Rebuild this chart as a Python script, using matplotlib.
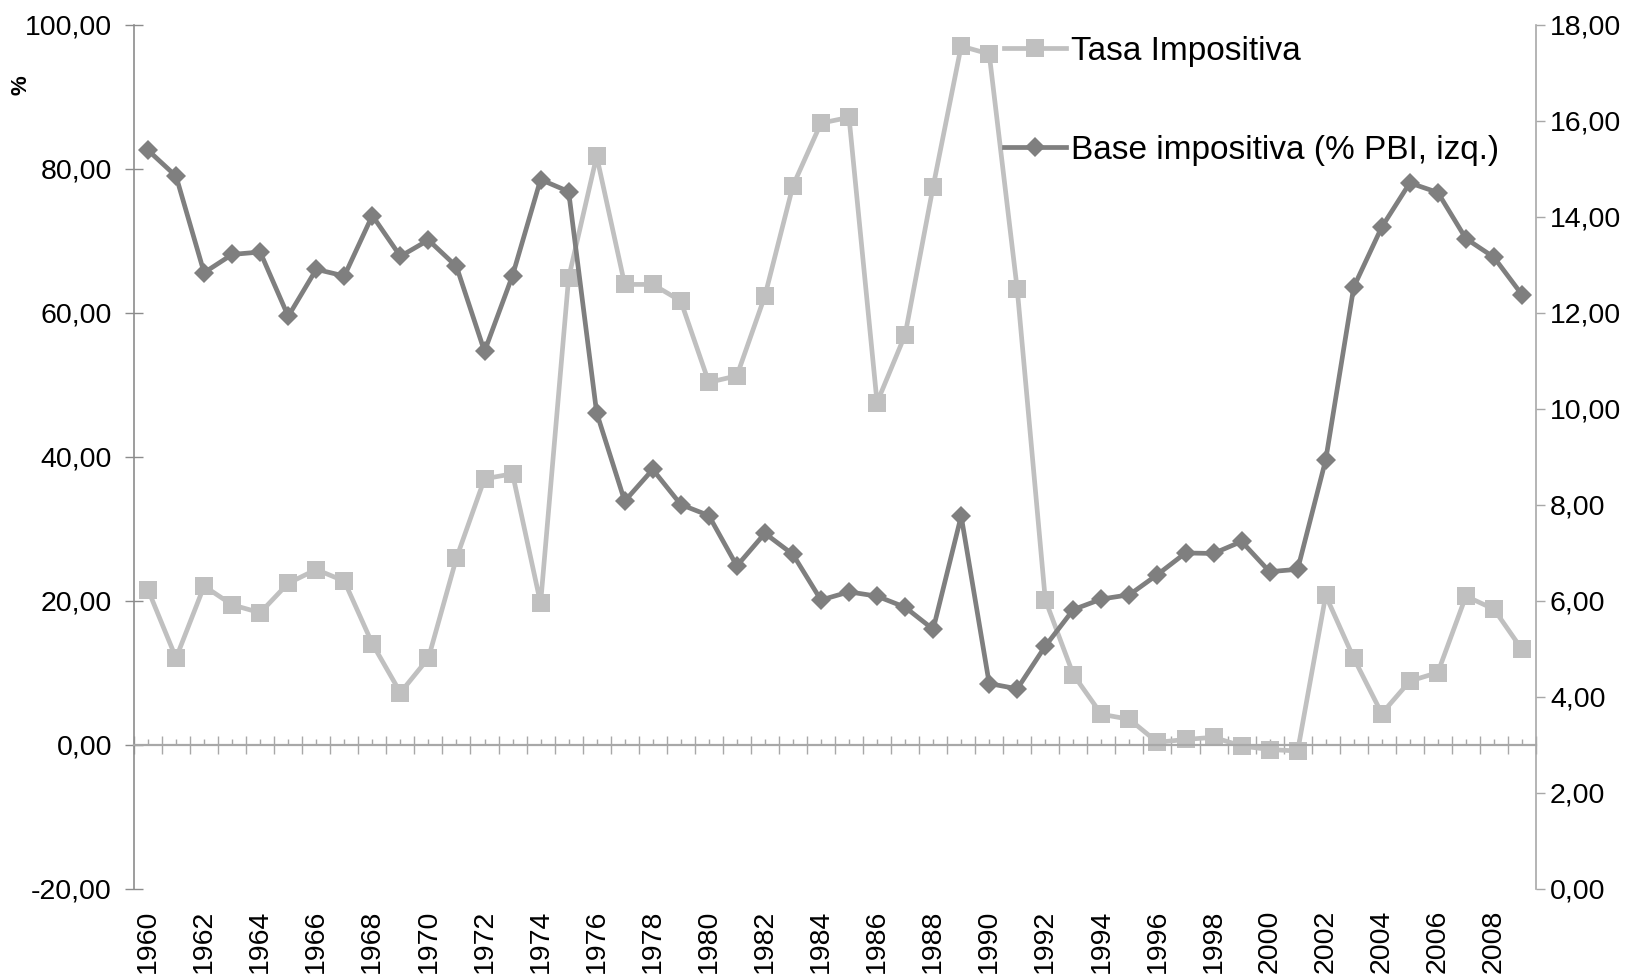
import matplotlib
matplotlib.use("Agg")
import matplotlib.pyplot as plt
from matplotlib.ticker import FixedLocator, FuncFormatter

plt.rcParams['font.family'] = ['Liberation Sans', 'DejaVu Sans']

years = list(range(1960, 2010))
tasa_impositiva = [21.5, 12.0, 22.0, 19.4, 18.3, 22.4, 24.3, 22.7, 14.0, 7.2,
                   12.0, 25.9, 36.9, 37.6, 19.6, 64.8, 81.7, 63.9, 63.9, 61.6,
                   50.3, 51.2, 62.3, 77.6, 86.3, 87.1, 47.5, 56.9, 77.5, 97.0,
                   95.9, 63.2, 20.1, 9.7, 4.2, 3.5, 0.3, 0.7, 1.0, -0.2,
                   -0.7, -0.9, 20.7, 12.0, 4.3, 8.8, 10.0, 20.6, 18.8, 13.2]
base_impositiva = [15.38, 14.84, 12.83, 13.21, 13.26, 11.92, 12.90, 12.76, 14.02, 13.17,
                   13.51, 12.96, 11.19, 12.77, 14.77, 14.52, 9.91, 8.07, 8.73, 8.00,
                   7.77, 6.72, 7.40, 6.96, 6.01, 6.18, 6.09, 5.86, 5.40, 7.76,
                   4.27, 4.16, 5.05, 5.81, 6.03, 6.12, 6.54, 6.99, 6.98, 7.23,
                   6.60, 6.65, 8.93, 12.53, 13.78, 14.70, 14.50, 13.54, 13.15, 12.37]
label_tasa = "Tasa Impositiva"
label_base = "Base impositiva (% PBI, izq.)"
left_ticks = [-20, 0, 20, 40, 60, 80, 100]
right_ticks = [0, 2, 4, 6, 8, 10, 12, 14, 16, 18]
xlabel_years = years[::2]

W, H = 1631, 975
fig = plt.figure(figsize=(W / 100, H / 100), dpi=100)
ax = fig.add_axes([134 / W, 1 - 888.5 / H, (1536 - 134) / W, (888.5 - 24.5) / H])
ax2 = ax.twinx()

light = '#c0c0c0'
dark = '#7f7f7f'
fmt = FuncFormatter(lambda v, p: f"{v:.2f}".replace('.', ','))

l1, = ax.plot(years, tasa_impositiva, color=light, lw=3.4, marker='s', ms=12.5,
              mec=light, mew=0, label=label_tasa, clip_on=False)
l2, = ax2.plot(years, base_impositiva, color=dark, lw=3.4, marker='D', ms=10,
               mec=dark, mew=0, label=label_base, clip_on=False)

ax.set_xlim(1959.5, 2009.5)
ax.set_ylim(-20, 100)
ax2.set_ylim(0, 18)

# spines
for s in ['top', 'right']:
    ax.spines[s].set_visible(False)
for s in ['top', 'left', 'bottom']:
    ax2.spines[s].set_visible(False)
ax.spines['left'].set_color('#8c8c8c')
ax.spines['left'].set_linewidth(1.2)
ax.spines['bottom'].set_position(('data', 0))
ax.spines['bottom'].set_color('#a8a8a8')
ax.spines['bottom'].set_linewidth(1.6)
ax2.spines['right'].set_color('#a8a8a8')
ax2.spines['right'].set_linewidth(1.2)

# left axis
ax.yaxis.set_major_locator(FixedLocator(left_ticks))
ax.yaxis.set_major_formatter(fmt)
ax.tick_params(axis='y', direction='inout', length=12.7, width=1.0, color='#8c8c8c',
               labelsize=20.5, pad=9.5)

# right axis
ax2.yaxis.set_major_locator(FixedLocator(right_ticks))
ax2.yaxis.set_major_formatter(fmt)
ax2.tick_params(axis='y', direction='out', length=6.5, width=1.0, color='#a8a8a8',
                labelsize=20.5, pad=3.5)

# category axis at zero
ax.xaxis.set_major_locator(FixedLocator([y - 0.5 for y in years] + [years[-1] + 0.5]))
ax.xaxis.set_minor_locator(FixedLocator(years))
ax.tick_params(axis='x', which='major', direction='inout', length=12.5, width=1.0,
               color='#a8a8a8', labelbottom=False)
ax.tick_params(axis='x', which='minor', direction='in', length=4.1, width=1.0,
               color='#a8a8a8', labelbottom=False)

secax = ax.secondary_xaxis('bottom')
secax.spines['bottom'].set_visible(False)
secax.xaxis.set_major_locator(FixedLocator(xlabel_years))
secax.set_xticklabels([str(y) for y in xlabel_years], rotation=90)
secax.tick_params(axis='x', length=0, labelsize=20.5, pad=15.5)

fig.text(21 / W, 1 - 85 / H, '%', rotation=90, fontsize=16, fontweight='bold',
         ha='center', va='center')

fig.legend(handles=[l1, l2], loc='upper left', bbox_to_anchor=(1004 / W, 1 - 36 / H),
           frameon=False, fontsize=24, handlelength=1.86, handletextpad=0.15,
           borderpad=0, borderaxespad=0, labelspacing=2.03)

fig.savefig('out.png', dpi=100)
